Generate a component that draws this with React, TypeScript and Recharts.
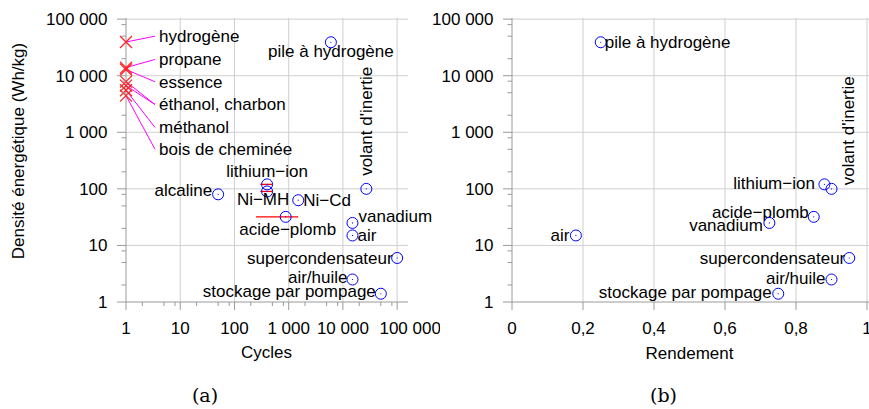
import React from 'react';
import { ScatterChart, Scatter, XAxis, YAxis, ReferenceLine } from 'recharts';

// fuels (red crosses, all at 1 cycle)
const fuelNames = ['hydrogène', 'propane', 'essence', 'éthanol', 'charbon', 'méthanol', 'bois de cheminée'];
const fuelCycles = [1, 1, 1, 1, 1, 1, 1];
const fuelEnergy = [39400, 13900, 12900, 7850, 6670, 5530, 4440];

// fuel labels and which label each fuel points to
const fuelLabelText = ['hydrogène', 'propane', 'essence', 'éthanol, charbon', 'méthanol', 'bois de cheminée'];
const fuelLabelCycles = [3.43, 3.43, 3.43, 3.43, 3.43, 3.43];
const fuelLabelEnergy = [50000, 19400, 7800, 3100, 1220, 500];
const fuelLabelOf = [0, 1, 2, 3, 3, 4, 5];

// storage technologies
const storageNames = [
  'pile à hydrogène', 'lithium−ion', 'alcaline', 'Ni−MH', 'Ni−Cd', 'acide−plomb',
  "volant d'inertie", 'vanadium', 'air', 'supercondensateur', 'air/huile', 'stockage par pompage',
];
const storageCycles = [6000, 400, 50, 400, 1500, 880, 27000, 15000, 15000, 100000, 15000, 50000];
const storageEnergy = [39000, 120, 80, 90, 63, 32, 100, 25, 15, 6, 2.5, 1.4];
const storageEfficiency = [0.25, 0.88, null, null, null, 0.85, 0.9, 0.725, 0.18, 0.95, 0.9, 0.75];

// cycle ranges (red bars)
const rangeNames = ['lithium−ion', 'Ni−MH', 'acide−plomb'];
const rangeLow = [300, 300, 250];
const rangeHigh = [500, 500, 1500];

const logMajor = [1, 10, 100, 1000, 10000, 100000];
const logMinor = [2, 5, 8, 20, 50, 80, 200, 500, 800, 2000, 5000, 8000, 20000, 50000, 80000];
const effTicks = [0, 0.2, 0.4, 0.6, 0.8, 1];

const AXIS = '#9a9a9a';
const GRID = '#cfcfcf';
const FONT = '"Liberation Sans", Arial, sans-serif';
const FS = 17;

type Place = { anchor: 'start' | 'middle' | 'end'; dx: number; dy: number; rotate?: boolean };

const leftPlace: Record<string, Place> = {
  'pile à hydrogène': { anchor: 'middle', dx: 0, dy: 9 },
  'lithium−ion': { anchor: 'middle', dx: 0, dy: -13 },
  'alcaline': { anchor: 'end', dx: -6, dy: -4 },
  'Ni−MH': { anchor: 'middle', dx: -4, dy: 8 },
  'Ni−Cd': { anchor: 'start', dx: 5, dy: 0 },
  'acide−plomb': { anchor: 'middle', dx: 2, dy: 12 },
  "volant d'inertie": { anchor: 'start', dx: 0, dy: -13, rotate: true },
  'vanadium': { anchor: 'start', dx: 6, dy: -7 },
  'air': { anchor: 'start', dx: 5, dy: 0 },
  'supercondensateur': { anchor: 'end', dx: -4.5, dy: 0 },
  'air/huile': { anchor: 'end', dx: -5, dy: -2 },
  'stockage par pompage': { anchor: 'end', dx: -5, dy: -3 },
};

const rightPlace: Record<string, Place> = {
  'pile à hydrogène': { anchor: 'start', dx: 4, dy: 0 },
  'lithium−ion': { anchor: 'end', dx: -9.5, dy: -1.5 },
  "volant d'inertie": { anchor: 'start', dx: 16.5, dy: -3.5, rotate: true },
  'acide−plomb': { anchor: 'end', dx: -5, dy: -5 },
  'vanadium': { anchor: 'end', dx: -6.5, dy: 2.5 },
  'air': { anchor: 'end', dx: -6.5, dy: 0 },
  'supercondensateur': { anchor: 'end', dx: -4, dy: 0 },
  'air/huile': { anchor: 'end', dx: -6, dy: -1 },
  'stockage par pompage': { anchor: 'end', dx: -6.5, dy: -1.5 },
};

const leftData = storageNames.map((name, i) => ({ name, x: storageCycles[i], y: storageEnergy[i] }));
const rightData = storageNames
  .map((name, i) => ({ name, x: storageEfficiency[i], y: storageEnergy[i] }))
  .filter((d) => d.x !== null);
const fuelData = fuelNames.map((name, i) => ({ name, x: fuelCycles[i], y: fuelEnergy[i] }));
const fuelLabelData = fuelLabelText.map((name, i) => ({ name, x: fuelLabelCycles[i], y: fuelLabelEnergy[i] }));

const fmt = (v: number) => String(v).replace(/\B(?=(\d{3})+(?!\d))/g, ' ');

const LogYTick = (props: any) => {
  const { x, y, payload } = props;
  const major = logMajor.includes(payload.value);
  return (
    <g>
      <line x1={major ? x - 9 : x - 4.5} x2={x} y1={y} y2={y} stroke={AXIS} />
      {major && (
        <text x={x - 18.5} y={y} dy="0.35em" textAnchor="end" fontSize={FS} fontFamily={FONT} fill="#000">
          {fmt(payload.value)}
        </text>
      )}
    </g>
  );
};

const LogXTick = (props: any) => {
  const { x, y, payload } = props;
  const major = logMajor.includes(payload.value);
  // last label is pushed right so it does not run into its neighbour
  const shift = payload.value === 100000 ? 13 : 0;
  return (
    <g>
      <line x1={x} x2={x} y1={y} y2={major ? y + 8 : y + 4} stroke={AXIS} />
      {major && (
        <text x={x + shift} y={y + 26} dy="0.35em" textAnchor="middle" fontSize={FS} fontFamily={FONT} fill="#000">
          {fmt(payload.value)}
        </text>
      )}
    </g>
  );
};

const EffXTick = (props: any) => {
  const { x, y, payload } = props;
  return (
    <g>
      <line x1={x} x2={x} y1={y} y2={y + 8} stroke={AXIS} />
      <text x={x} y={y + 26} dy="0.35em" textAnchor="middle" fontSize={FS} fontFamily={FONT} fill="#000">
        {String(payload.value).replace('.', ',')}
      </text>
    </g>
  );
};

const circleShape = (place: Record<string, Place>) => (props: any) => {
  const { cx, cy, payload } = props;
  const p = place[payload.name];
  const tx = cx + p.dx;
  const ty = cy + p.dy;
  return (
    <g>
      <circle cx={cx} cy={cy} r={5.5} fill="none" stroke="#0000ff" strokeWidth={1} />
      <circle cx={cx} cy={cy} r={0.6} fill="#0000ff" />
      <text
        x={tx}
        y={ty}
        dy="0.35em"
        textAnchor={p.anchor}
        fontSize={FS}
        fontFamily={FONT}
        fill="#000"
        transform={p.rotate ? `rotate(-90 ${tx} ${ty})` : undefined}
      >
        {payload.name}
      </text>
    </g>
  );
};

const crossShape = (props: any) => {
  const { cx, cy } = props;
  const s = 6;
  return (
    <g stroke="#ff2020" strokeWidth={1.3}>
      <line x1={cx - s} y1={cy - s} x2={cx + s} y2={cy + s} />
      <line x1={cx - s} y1={cy + s} x2={cx + s} y2={cy - s} />
    </g>
  );
};

const fuelLabelShape = (props: any) => {
  const { cx, cy, payload } = props;
  return (
    <text x={cx + 4} y={cy} dy="0.35em" textAnchor="start" fontSize={FS} fontFamily={FONT} fill="#000">
      {payload.name}
    </text>
  );
};

const yDomain: [number, number] = [1, 104700];

const LeftChart = () => (
  <ScatterChart width={440} height={409} margin={{ top: 18, right: 32, bottom: 47, left: 0 }}>
    <XAxis
      type="number"
      dataKey="x"
      scale="log"
      domain={[1, 158500]}
      ticks={[...logMajor, ...logMinor]}
      interval={0}
      tick={<LogXTick />}
      tickLine={false}
      tickSize={0}
      tickMargin={0}
      axisLine={{ stroke: AXIS }}
      height={60}
    />
    <YAxis
      type="number"
      dataKey="y"
      scale="log"
      domain={yDomain}
      ticks={[...logMajor, ...logMinor]}
      interval={0}
      tick={<LogYTick />}
      tickLine={false}
      tickSize={0}
      tickMargin={0}
      axisLine={{ stroke: AXIS }}
      width={126}
    />
    {logMajor.slice(1).map((v) => (
      <ReferenceLine key={'gx' + v} x={v} stroke={GRID} />
    ))}
    {logMajor.slice(1).map((v) => (
      <ReferenceLine key={'gy' + v} y={v} stroke={GRID} />
    ))}
    {fuelNames.map((n, i) => (
      <ReferenceLine
        key={'lead' + n}
        segment={[
          { x: fuelCycles[i], y: fuelEnergy[i] },
          { x: fuelLabelCycles[fuelLabelOf[i]], y: fuelLabelEnergy[fuelLabelOf[i]] },
        ]}
        stroke="#ff00ff"
        strokeWidth={1}
      />
    ))}
    {rangeNames.map((n, i) => {
      const y = storageEnergy[storageNames.indexOf(n)];
      return (
        <ReferenceLine
          key={'rg' + n}
          segment={[
            { x: rangeLow[i], y },
            { x: rangeHigh[i], y },
          ]}
          stroke="#ff0000"
          strokeWidth={1.3}
        />
      );
    })}
    <Scatter data={fuelData} shape={crossShape} isAnimationActive={false} />
    <Scatter data={fuelLabelData} shape={fuelLabelShape} isAnimationActive={false} />
    <Scatter data={leftData} shape={circleShape(leftPlace)} isAnimationActive={false} />
  </ScatterChart>
);

const RightChart = () => (
  <ScatterChart width={459} height={409} margin={{ top: 18, right: 0, bottom: 47, left: 0 }}>
    <XAxis
      type="number"
      dataKey="x"
      domain={[0, 1.0056]}
      ticks={effTicks}
      interval={0}
      tick={<EffXTick />}
      tickLine={false}
      tickSize={0}
      tickMargin={0}
      axisLine={{ stroke: AXIS }}
      height={60}
    />
    <YAxis
      type="number"
      dataKey="y"
      scale="log"
      domain={yDomain}
      ticks={[...logMajor, ...logMinor]}
      interval={0}
      tick={<LogYTick />}
      tickLine={false}
      tickSize={0}
      tickMargin={0}
      axisLine={{ stroke: AXIS }}
      width={102}
    />
    {effTicks.slice(1).map((v) => (
      <ReferenceLine key={'gx' + v} x={v} stroke={GRID} />
    ))}
    {logMajor.slice(1).map((v) => (
      <ReferenceLine key={'gy' + v} y={v} stroke={GRID} />
    ))}
    <Scatter data={rightData} shape={circleShape(rightPlace)} isAnimationActive={false} />
  </ScatterChart>
);

export default function App() {
  return (
    <div style={{ position: 'absolute', left: 0, top: 0, width: 869, height: 409, background: '#fff' }}>
      <div style={{ position: 'absolute', left: 0, top: 0 }}>
        <LeftChart />
      </div>
      <div style={{ position: 'absolute', left: 410, top: 0 }}>
        <RightChart />
      </div>
      <svg width={869} height={409} style={{ position: 'absolute', left: 0, top: 0, pointerEvents: 'none' }}>
        <text
          x={18.5}
          y={151}
          dy="0.35em"
          textAnchor="middle"
          fontSize={FS}
          fontFamily={FONT}
          transform="rotate(-90 18.5 151)"
        >
          Densité énergétique (Wh/kg)
        </text>
        <text x={266.5} y={352.5} dy="0.35em" textAnchor="middle" fontSize={FS} fontFamily={FONT}>
          Cycles
        </text>
        <text x={689.5} y={353} dy="0.35em" textAnchor="middle" fontSize={FS} fontFamily={FONT}>
          Rendement
        </text>
        <text x={205} y={395.5} dy="0.35em" textAnchor="middle" fontSize={19} fontFamily='"DejaVu Serif", serif'>
          (a)
        </text>
        <text x={663.5} y={395} dy="0.35em" textAnchor="middle" fontSize={19} fontFamily='"DejaVu Serif", serif'>
          (b)
        </text>
      </svg>
    </div>
  );
}
